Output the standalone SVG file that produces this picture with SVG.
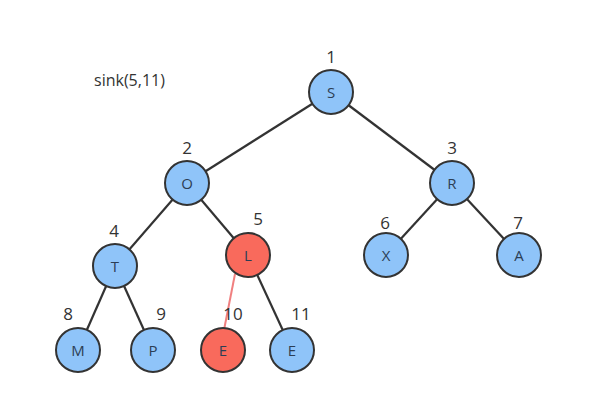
<svg xmlns="http://www.w3.org/2000/svg" width="596" height="403" viewBox="0 0 596 403">
<style>
.n{fill:#8fc4f9;stroke:#333;stroke-width:2}
.r{fill:#f96a5c;stroke:#333;stroke-width:2}
.t{font-family:"Open Sans","DejaVu Sans",sans-serif;font-size:15px;fill:#2c3e55;text-anchor:middle;dominant-baseline:central}
.i{font-family:"Open Sans","DejaVu Sans",sans-serif;font-size:17px;fill:#333;text-anchor:middle}
.e{stroke:#333;stroke-width:2.2;fill:none}
</style>
<rect width="596" height="403" fill="#fff"/>
<text x="94" y="86" font-family="'Open Sans','DejaVu Sans',sans-serif" font-size="16" fill="#333">sink(5,11)</text>
<g id="connectors">
<line class="e" x1="331" y1="92" x2="187" y2="183"/>
<line class="e" x1="331" y1="92" x2="452" y2="183"/>
<line class="e" x1="187" y1="183" x2="115" y2="266"/>
<line class="e" x1="187" y1="183" x2="248" y2="255"/>
<line class="e" x1="452" y1="183" x2="386" y2="255"/>
<line class="e" x1="452" y1="183" x2="519" y2="255"/>
<line class="e" x1="115" y1="266" x2="78" y2="350"/>
<line class="e" x1="115" y1="266" x2="153" y2="350"/>
<line x1="235" y1="274" x2="223" y2="335" stroke="#f08080" stroke-width="2"/>
<line class="e" x1="248" y1="255" x2="292" y2="350"/>
</g>
<g id="n1"><circle class="n" cx="331" cy="92" r="22"/><text class="t" x="331" y="92">S</text><text class="i" x="331" y="63">1</text></g>
<g id="n2"><circle class="n" cx="187" cy="183" r="22"/><text class="t" x="187" y="183">O</text><text class="i" x="187" y="154">2</text></g>
<g id="n3"><circle class="n" cx="452" cy="183" r="22"/><text class="t" x="452" y="183">R</text><text class="i" x="452" y="154">3</text></g>
<g id="n4"><circle class="n" cx="115" cy="266" r="22"/><text class="t" x="115" y="266">T</text><text class="i" x="114" y="237">4</text></g>
<g id="n5"><circle class="r" cx="248" cy="255" r="22"/><text class="t" x="248" y="255">L</text><text class="i" x="258" y="225">5</text></g>
<g id="n6"><circle class="n" cx="386" cy="255" r="22"/><text class="t" x="386" y="255">X</text><text class="i" x="385" y="229">6</text></g>
<g id="n7"><circle class="n" cx="519" cy="255" r="22"/><text class="t" x="519" y="255">A</text><text class="i" x="518" y="229">7</text></g>
<g id="n8"><circle class="n" cx="78" cy="350" r="22"/><text class="t" x="78" y="350">M</text><text class="i" x="68" y="320">8</text></g>
<g id="n9"><circle class="n" cx="153" cy="350" r="22"/><text class="t" x="153" y="350">P</text><text class="i" x="161" y="320">9</text></g>
<g id="n10"><circle class="r" cx="223" cy="350" r="22" stroke="#111" stroke-width="2.5"/><text class="t" x="223" y="350">E</text><text class="i" x="233" y="320">10</text></g>
<g id="n11"><circle class="n" cx="292" cy="350" r="22"/><text class="t" x="292" y="350">E</text><text class="i" x="301" y="320">11</text></g>
</svg>
